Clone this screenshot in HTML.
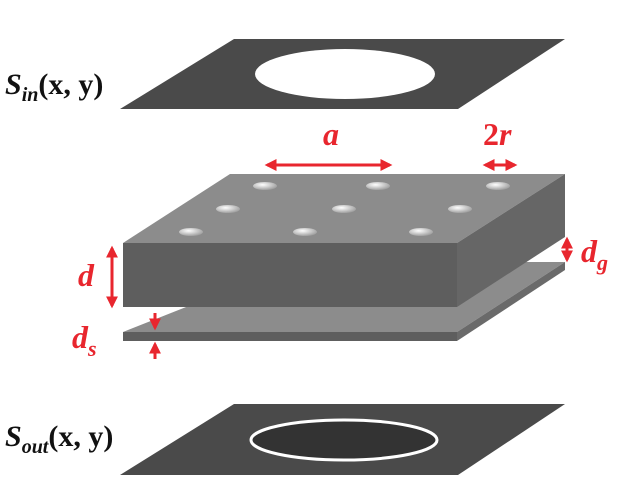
<!DOCTYPE html>
<html><head><style>
body{margin:0;width:636px;height:489px;background:#fff;overflow:hidden}
text{font-family:"Liberation Serif",serif;font-weight:bold}
.r{fill:#e8262e;font-style:italic;font-size:32px}
</style></head><body>
<svg width="636" height="489" viewBox="0 0 636 489">
<defs>
<marker id="ah" viewBox="0 0 10 10" refX="8" refY="5" markerWidth="4" markerHeight="4" orient="auto-start-reverse"><path d="M0,0L10,5L0,10z" fill="#e8262e"/></marker>
<radialGradient id="hg" cx="0.4" cy="0.35" r="0.7"><stop offset="0" stop-color="#fff"/><stop offset="1" stop-color="#999"/></radialGradient>
</defs>
<polygon points="120,109 458,109 565,39 234,39" fill="#4a4a4a"/>
<ellipse cx="345" cy="74" rx="90" ry="25" fill="#fff"/>
<text x="5" y="94" font-size="30" fill="#111"><tspan font-style="italic">S</tspan><tspan font-size="20" font-style="italic" dy="7">in</tspan><tspan dy="-7">(x, y)</tspan></text>
<polygon points="123,332 457,332 565,262 300,262" fill="#8c8c8c"/>
<polygon points="123,332 457,332 457,341 123,341" fill="#5e5e5e"/>
<polygon points="457,332 565,262 565,270 457,341" fill="#6a6a6a"/>
<polygon points="123,243 457,243 565,174 230,174" fill="#8c8c8c"/>
<polygon points="123,243 457,243 457,307 123,307" fill="#5e5e5e"/>
<polygon points="457,243 565,174 565,237 457,307" fill="#666"/>
<g fill="url(#hg)">
<ellipse cx="265" cy="186" rx="12" ry="4"/><ellipse cx="378" cy="186" rx="12" ry="4"/><ellipse cx="498" cy="186" rx="12" ry="4"/>
<ellipse cx="228" cy="209" rx="12" ry="4"/><ellipse cx="344" cy="209" rx="12" ry="4"/><ellipse cx="460" cy="209" rx="12" ry="4"/>
<ellipse cx="191" cy="232" rx="12" ry="4"/><ellipse cx="305" cy="232" rx="12" ry="4"/><ellipse cx="421" cy="232" rx="12" ry="4"/>
</g>
<g stroke="#e8262e" stroke-width="3" marker-start="url(#ah)" marker-end="url(#ah)">
<line x1="267" y1="165" x2="390" y2="165"/>
<line x1="485" y1="165" x2="515" y2="165"/>
<line x1="112" y1="248" x2="112" y2="306"/>
<line x1="567" y1="239" x2="567" y2="260"/>
</g>
<g stroke="#e8262e" stroke-width="3" marker-end="url(#ah)">
<line x1="155" y1="313" x2="155" y2="328"/>
<line x1="155" y1="359" x2="155" y2="344"/>
</g>
<text x="323" y="145" class="r">a</text>
<text x="483" y="145" class="r" style="font-style:normal">2<tspan font-style="italic">r</tspan></text>
<text x="78" y="286" class="r">d</text>
<text x="581" y="262" class="r">d<tspan font-size="22" dy="8">g</tspan></text>
<text x="72" y="348" class="r">d<tspan font-size="22" dy="8">s</tspan></text>
<polygon points="120,475 458,475 565,404 234,404" fill="#4a4a4a"/>
<ellipse cx="344" cy="440" rx="93" ry="20" fill="#333" stroke="#fff" stroke-width="3"/>
<text x="5" y="446" font-size="30" fill="#111"><tspan font-style="italic">S</tspan><tspan font-size="20" font-style="italic" dy="7">out</tspan><tspan dy="-7">(x, y)</tspan></text>
</svg>
</body></html>
